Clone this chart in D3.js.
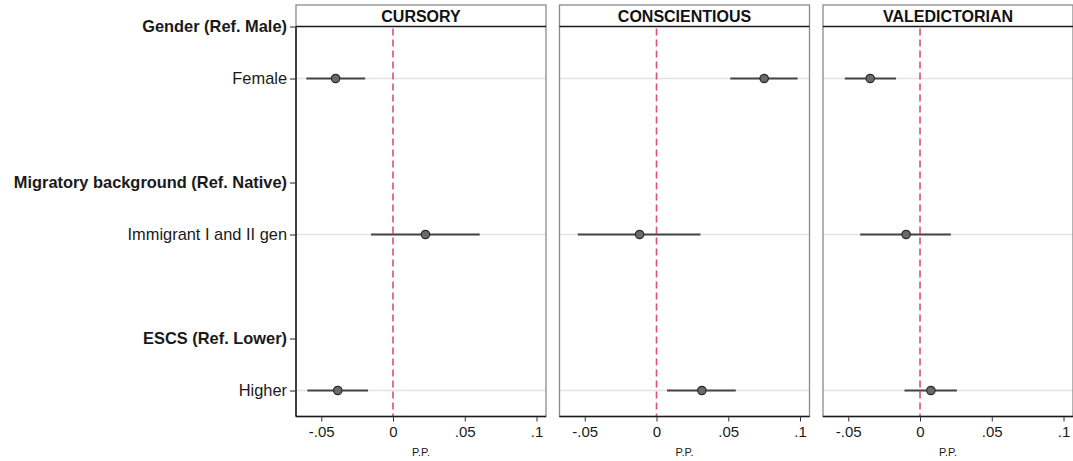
<!DOCTYPE html>
<html>
<head>
<meta charset="utf-8">
<script src="https://cdn.jsdelivr.net/npm/d3@7"></script>
<style>
  html, body { margin: 0; padding: 0; background: #fff; }
  svg { display: block; font-family: "Liberation Sans", Arial, sans-serif; }
</style>
</head>
<body>
<div id="chart"></div>
<script>
// y-axis rows, top to bottom ('' = empty gap row)
const rowLabels = ['Gender (Ref. Male)', 'Female', '', 'Migratory background (Ref. Native)',
  'Immigrant I and II gen', '', 'ESCS (Ref. Lower)', 'Higher'];
const headingRows = ['Gender (Ref. Male)', 'Migratory background (Ref. Native)', 'ESCS (Ref. Lower)'];
const items = ['Female', 'Immigrant I and II gen', 'Higher'];

const panels = ['CURSORY', 'CONSCIENTIOUS', 'VALEDICTORIAN'];

// coefficient and 95% CI per item
const cursoryCoef = [-0.040, 0.0226, -0.0385];
const cursoryLo = [-0.0604, -0.0153, -0.0597];
const cursoryHi = [-0.0194, 0.0604, -0.0174];

const conscientiousCoef = [0.075, -0.0118, 0.0316];
const conscientiousLo = [0.0514, -0.0549, 0.0073];
const conscientiousHi = [0.0983, 0.0306, 0.0552];

const valedictorianCoef = [-0.0347, -0.0097, 0.0076];
const valedictorianLo = [-0.0524, -0.0417, -0.0108];
const valedictorianHi = [-0.0167, 0.0215, 0.0257];

const xTicks = [-0.05, 0, 0.05, 0.1];
const xTickLabels = ['-.05', '0', '.05', '.1'];
const xTitle = 'P.P.';

const series = [
  { coef: cursoryCoef, lo: cursoryLo, hi: cursoryHi },
  { coef: conscientiousCoef, lo: conscientiousLo, hi: conscientiousHi },
  { coef: valedictorianCoef, lo: valedictorianLo, hi: valedictorianHi }
];

const width = 1073;
const height = 461;
const panelLeft = 296;
const panelWidth = 250;
const panelGap = 13.5;
const headerTop = 5;
const plotTop = 26.5;
const lastRowY = 390.5;

const svg = d3.select('#chart')
  .append('svg')
  .attr('width', width)
  .attr('height', height);

const y = d3.scalePoint()
  .domain(rowLabels.map((d, i) => i))
  .range([plotTop, lastRowY]);
const plotBottom = lastRowY + y.step() / 2;

// y axis labels
svg.append('g')
  .attr('transform', `translate(${panelLeft},0)`)
  .call(d3.axisLeft(y)
    .tickValues(rowLabels.map((d, i) => i).filter(i => rowLabels[i] !== ''))
    .tickSize(6)
    .tickPadding(3)
    .tickFormat(i => rowLabels[i]))
  .call(g => g.select('.domain').remove())
  .call(g => g.selectAll('.tick line').attr('stroke', '#222'))
  .call(g => g.selectAll('text')
    .attr('fill', '#1a1a1a')
    .style('font-size', '16.4px')
    .style('font-family', '"Liberation Sans", Arial, sans-serif')
    .style('font-weight', i => headingRows.includes(rowLabels[i]) ? 'bold' : 'normal'));

panels.forEach((name, p) => {
  const left = panelLeft + p * (panelWidth + panelGap);
  const s = series[p];

  const x = d3.scaleLinear()
    .domain([-0.0676, 0.1066])
    .range([left, left + panelWidth]);

  const g = svg.append('g');

  // gridlines at item rows
  g.selectAll('.grid')
    .data(items)
    .enter()
    .append('line')
    .attr('x1', left)
    .attr('x2', left + panelWidth)
    .attr('y1', d => y(rowLabels.indexOf(d)))
    .attr('y2', d => y(rowLabels.indexOf(d)))
    .attr('stroke', '#e4e4e4')
    .attr('stroke-width', 1.5);

  // zero reference line
  g.append('line')
    .attr('x1', x(0))
    .attr('x2', x(0))
    .attr('y1', plotTop + 2)
    .attr('y2', plotBottom)
    .attr('stroke', '#dc4f77')
    .attr('stroke-width', 1.6)
    .attr('stroke-dasharray', '7,4');

  // confidence intervals
  g.selectAll('.ci')
    .data(items)
    .enter()
    .append('line')
    .attr('x1', (d, i) => x(s.lo[i]))
    .attr('x2', (d, i) => x(s.hi[i]))
    .attr('y1', d => y(rowLabels.indexOf(d)))
    .attr('y2', d => y(rowLabels.indexOf(d)))
    .attr('stroke', '#444')
    .attr('stroke-width', 1.8);

  // point estimates
  g.selectAll('.dot')
    .data(items)
    .enter()
    .append('circle')
    .attr('cx', (d, i) => x(s.coef[i]))
    .attr('cy', d => y(rowLabels.indexOf(d)))
    .attr('r', 4.2)
    .attr('fill', '#6a6a6a')
    .attr('stroke', '#2a2a2a')
    .attr('stroke-width', 1.2);

  // panel frame (gray) and header strip
  g.append('rect')
    .attr('x', left)
    .attr('y', headerTop)
    .attr('width', panelWidth)
    .attr('height', plotBottom - headerTop)
    .attr('fill', 'none')
    .attr('stroke', '#8a8a8a')
    .attr('stroke-width', 1.3);

  g.append('line')
    .attr('x1', left)
    .attr('x2', left + panelWidth)
    .attr('y1', plotTop)
    .attr('y2', plotTop)
    .attr('stroke', '#1a1a1a')
    .attr('stroke-width', 1.5);

  g.append('text')
    .attr('x', left + panelWidth / 2)
    .attr('y', (headerTop + plotTop) / 2 + 6)
    .attr('text-anchor', 'middle')
    .attr('fill', '#111')
    .style('font-size', '16px')
    .style('font-weight', 'bold')
    .text(name);

  if (p === 0) {
    g.append('line')
      .attr('x1', left)
      .attr('x2', left)
      .attr('y1', plotTop)
      .attr('y2', plotBottom)
      .attr('stroke', '#1a1a1a')
      .attr('stroke-width', 1.5);
  }

  // bottom axis
  svg.append('g')
    .attr('transform', `translate(0,${plotBottom})`)
    .call(d3.axisBottom(x)
      .tickValues(xTicks)
      .tickSize(5)
      .tickPadding(5)
      .tickFormat((d, i) => xTickLabels[i]))
    .call(g => g.select('.domain')
      .attr('stroke', '#1a1a1a')
      .attr('stroke-width', 1.5)
      .attr('d', `M${left},0H${left + panelWidth}`))
    .call(g => g.selectAll('.tick line').attr('stroke', '#333'))
    .call(g => g.selectAll('text')
      .attr('fill', '#1a1a1a')
      .style('font-size', '15px')
      .style('font-family', '"Liberation Sans", Arial, sans-serif'));

  svg.append('text')
    .attr('x', left + panelWidth / 2)
    .attr('y', plotBottom + 39)
    .attr('text-anchor', 'middle')
    .attr('fill', '#1a1a1a')
    .style('font-size', '11px')
    .text(xTitle);
});
</script>
</body>
</html>
